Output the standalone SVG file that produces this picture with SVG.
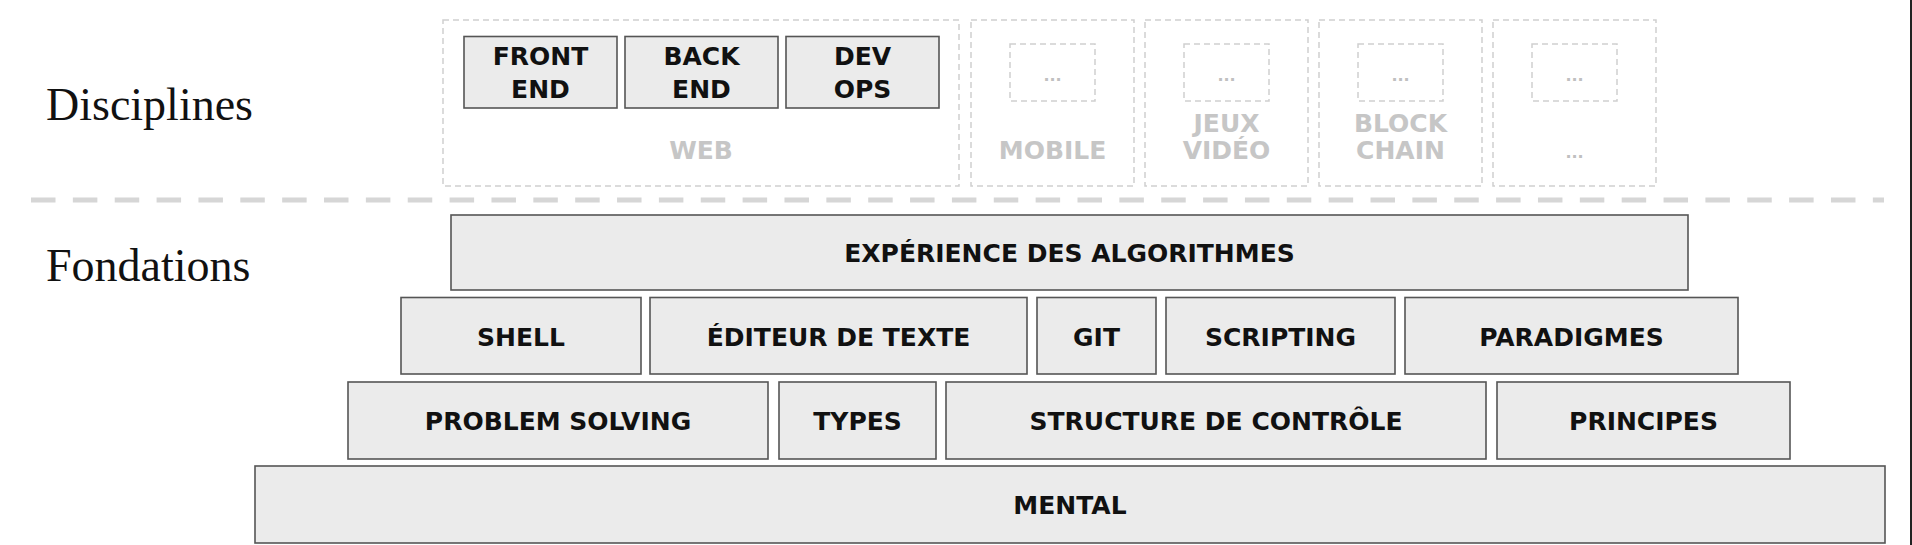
<svg xmlns="http://www.w3.org/2000/svg" width="1912" height="545" viewBox="0 0 1912 545">
<style>
.bg{fill:#ffffff}
.box{fill:#ebebeb;stroke:#555555;stroke-width:1.6}
.dbox{fill:none;stroke:#d0d0d0;stroke-width:1.5;stroke-dasharray:6 4}
.t{font-family:"DejaVu Sans",sans-serif;font-weight:bold;font-size:25px;fill:#111111;text-anchor:middle}
.g{font-family:"DejaVu Sans",sans-serif;font-weight:bold;font-size:25px;fill:#c6c6c6;text-anchor:middle}
.dots{font-family:"DejaVu Sans",sans-serif;font-weight:bold;font-size:16px;fill:#c0c0c0;text-anchor:middle}
.h{font-family:"Liberation Serif",serif;font-size:46px;fill:#111111}
.sep{stroke:#d6d6d6;stroke-width:5;stroke-dasharray:24.5 17.36;fill:none}
</style>
<rect class="bg" x="0" y="0" width="1912" height="545"/>

<g id="labels">
<text class="h" x="46" y="120">Disciplines</text>
<text class="h" x="46" y="281">Fondations</text>
</g>

<g id="separator">
<line class="sep" x1="31" y1="200" x2="1884" y2="200"/>
</g>

<g id="web">
<rect class="dbox" x="443" y="20" width="516" height="166"/>
<text class="g" x="701" y="158.5">WEB</text>
</g>
<g id="front-end">
<rect class="box" x="464" y="36.5" width="153" height="71.5"/>
<text class="t" x="540.5" y="64.5">FRONT</text>
<text class="t" x="540.5" y="98">END</text>
</g>
<g id="back-end">
<rect class="box" x="625" y="36.5" width="153" height="71.5"/>
<text class="t" x="701.5" y="64.5">BACK</text>
<text class="t" x="701.5" y="98">END</text>
</g>
<g id="dev-ops">
<rect class="box" x="786" y="36.5" width="153" height="71.5"/>
<text class="t" x="862.5" y="64.5">DEV</text>
<text class="t" x="862.5" y="98">OPS</text>
</g>

<g id="mobile">
<rect class="dbox" x="971" y="20" width="163" height="166"/>
<rect class="dbox" x="1010" y="44" width="85" height="57"/>
<text class="dots" x="1052.5" y="81">...</text>
<text class="g" x="1052.5" y="158.5">MOBILE</text>
</g>
<g id="jeux-video">
<rect class="dbox" x="1145" y="20" width="163" height="166"/>
<rect class="dbox" x="1184" y="44" width="85" height="57"/>
<text class="dots" x="1226.5" y="81">...</text>
<text class="g" x="1226.5" y="132">JEUX</text>
<text class="g" x="1226.5" y="158.5">VIDÉO</text>
</g>
<g id="blockchain">
<rect class="dbox" x="1319" y="20" width="163" height="166"/>
<rect class="dbox" x="1358" y="44" width="85" height="57"/>
<text class="dots" x="1400.5" y="81">...</text>
<text class="g" x="1400.5" y="132">BLOCK</text>
<text class="g" x="1400.5" y="158.5">CHAIN</text>
</g>
<g id="autres">
<rect class="dbox" x="1493" y="20" width="163" height="166"/>
<rect class="dbox" x="1532" y="44" width="85" height="57"/>
<text class="dots" x="1574.5" y="81">...</text>
<text class="dots" x="1574.5" y="158">...</text>
</g>

<g id="experience">
<rect class="box" x="451" y="215" width="1237" height="75"/>
<text class="t" x="1069.5" y="262">EXPÉRIENCE DES ALGORITHMES</text>
</g>

<g id="shell">
<rect class="box" x="401" y="297.5" width="240" height="76.5"/>
<text class="t" x="521" y="346">SHELL</text>
</g>
<g id="editeur">
<rect class="box" x="650" y="297.5" width="377" height="76.5"/>
<text class="t" x="838.5" y="346">ÉDITEUR DE TEXTE</text>
</g>
<g id="git">
<rect class="box" x="1037" y="297.5" width="119" height="76.5"/>
<text class="t" x="1096.5" y="346">GIT</text>
</g>
<g id="scripting">
<rect class="box" x="1166" y="297.5" width="229" height="76.5"/>
<text class="t" x="1280.5" y="346">SCRIPTING</text>
</g>
<g id="paradigmes">
<rect class="box" x="1405" y="297.5" width="333" height="76.5"/>
<text class="t" x="1571.5" y="346">PARADIGMES</text>
</g>

<g id="problem-solving">
<rect class="box" x="348" y="382" width="420" height="77"/>
<text class="t" x="558" y="430">PROBLEM SOLVING</text>
</g>
<g id="types">
<rect class="box" x="779" y="382" width="157" height="77"/>
<text class="t" x="857.5" y="430">TYPES</text>
</g>
<g id="structure">
<rect class="box" x="946" y="382" width="540" height="77"/>
<text class="t" x="1216" y="430">STRUCTURE DE CONTRÔLE</text>
</g>
<g id="principes">
<rect class="box" x="1497" y="382" width="293" height="77"/>
<text class="t" x="1643.5" y="430">PRINCIPES</text>
</g>

<g id="mental">
<rect class="box" x="255" y="466" width="1630" height="77"/>
<text class="t" x="1070" y="514">MENTAL</text>
</g>

<line x1="1911" y1="0" x2="1911" y2="545" stroke="#222222" stroke-width="2"/>
</svg>
